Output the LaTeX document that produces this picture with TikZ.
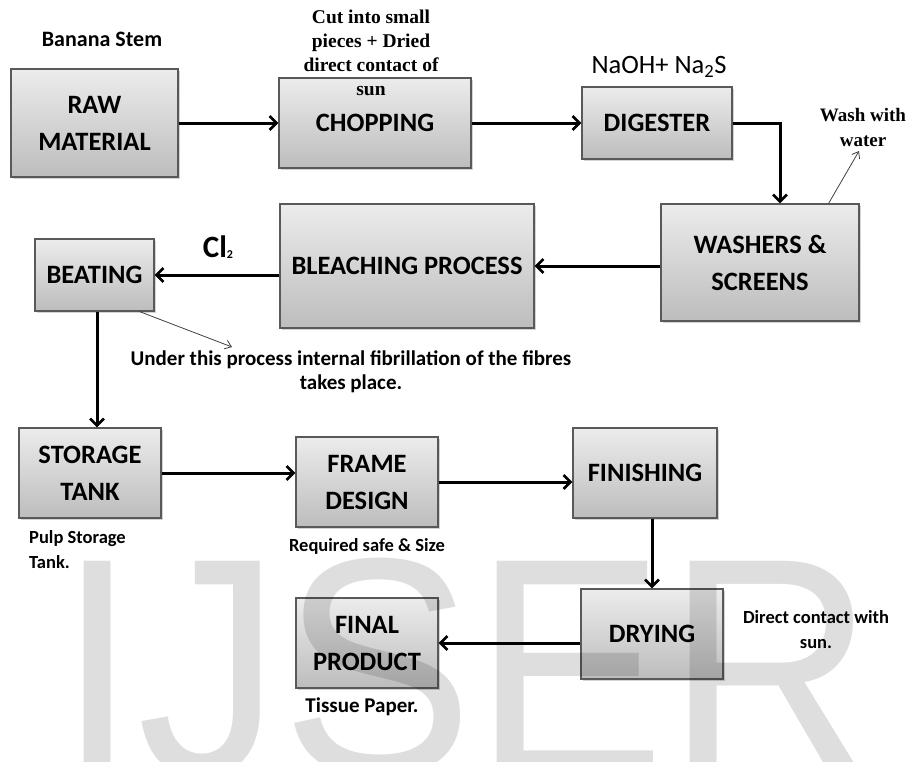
\documentclass[tikz,border=0pt]{standalone}
\usepackage{fontspec}
\setmainfont{Carlito}
\newfontfamily\cmb{Liberation Serif}
\newfontfamily\wmfont{Liberation Sans}
\usetikzlibrary{arrows.meta,shadows,calc}
\tikzset{
  box/.style={draw=black!65, line width=1.2pt, top color=gray!15, bottom color=gray!52,
    inner sep=2pt, align=center, font=\bfseries\fontsize{26.5}{37}\selectfont,
    drop shadow={shadow xshift=1.5pt,shadow yshift=-1.8pt,opacity=0.35}},
  arr/.style={line width=3pt, -{Straight Barb[length=7pt,width=14pt,line width=2.6pt]}},
  thinarr/.style={line width=0.8pt, draw=black!75, -{Straight Barb[length=6pt,width=9pt]}},
  lab/.style={font=\bfseries\fontsize{18.5}{25}\selectfont, align=center, inner sep=0pt},
  serlab/.style={font=\cmb\bfseries\fontsize{19.5}{24}\selectfont, align=center, inner sep=0pt},
}
\begin{document}
\begin{tikzpicture}[x=1pt,y=-1pt]
\useasboundingbox (0,0) rectangle (907,761);
% boxes
\node[box, minimum width=167pt, minimum height=108pt] (raw) at (94.5,123) {RAW\\MATERIAL};
\node[box, minimum width=192pt, minimum height=90pt] (chop) at (375,123) {CHOPPING};
\node[box, minimum width=150pt, minimum height=72pt] (dig) at (657,123) {DIGESTER};
\node[box, minimum width=198pt, minimum height=117pt] (wash) at (760,262.5) {WASHERS \&\\SCREENS};
\node[box, minimum width=254pt, minimum height=124pt] (bleach) at (407,266) {BLEACHING PROCESS};
\node[box, minimum width=119pt, minimum height=72pt] (beat) at (94.5,275) {BEATING};
\node[box, minimum width=142pt, minimum height=90pt] (store) at (90,473) {STORAGE\\TANK};
\node[box, minimum width=142pt, minimum height=90pt] (frame) at (367,482) {FRAME\\DESIGN};
\node[box, minimum width=144pt, minimum height=90pt] (fin) at (645,473) {FINISHING};
\node[box, minimum width=142pt, minimum height=90pt] (dry) at (652,634) {DRYING};
\node[box, minimum width=142pt, minimum height=90pt] (final) at (367,643) {FINAL\\PRODUCT};
% labels
\node[lab, font=\bfseries\fontsize{22}{26}\selectfont] (stem) at (102,39) {Banana Stem};
\node[serlab] (cut) at (371,53) {Cut into small\\pieces + Dried\\direct contact of\\sun};
\node[font=\fontsize{26.5}{30}\selectfont, inner sep=0pt] (naoh) at (659,67) {NaOH+ Na\textsubscript{2}S};
\node[serlab, font=\cmb\bfseries\fontsize{19}{25}\selectfont] (wwat) at (863,127) {Wash with\\water};
\node[font=\bfseries\fontsize{31}{31}\selectfont, inner sep=0pt] (cl) at (218,247) {Cl{\fontsize{12}{12}\selectfont\raisebox{-1pt}{2}}};
\node[lab, font=\bfseries\fontsize{21}{24}\selectfont] (note) at (351,372) {Under this process internal fibrillation of the fibres\\takes place.};
\node[lab, align=left, anchor=west] (pulp) at (29,550) {Pulp Storage\\Tank.};
\node[lab] (req) at (367,546) {Required safe \& Size};
\node[lab] (dcs) at (816,630) {Direct contact with\\sun.};
\node[lab, font=\bfseries\fontsize{21}{24}\selectfont] (tis) at (362,707) {Tissue Paper.};
% connectors
\draw[arr] (raw) -- (chop);
\draw[arr] (chop) -- (dig);
\draw[arr] (dig.east) -| ([xshift=20pt]wash.north);
\draw[arr] (wash.west |- bleach.east) -- (bleach.east);
\draw[arr] (bleach.west |- beat.east) -- (beat.east);
\draw[arr] ([xshift=2.5pt]beat.south) -- ([xshift=2.5pt]beat.south |- store.north);
\draw[arr] (store.east) -- (store.east -| frame.west);
\draw[arr] (frame.east) -- (frame.east -| fin.west);
\draw[arr] (fin.south -| dry.north) -- (dry.north);
\draw[arr] (dry.west |- final.east) -- (final.east);
% annotation pointers
\coordinate (noteend) at (232,347);
\coordinate (washend) at (859,151);
\draw[thinarr] ([xshift=-15pt]beat.south east) -- (noteend);
\draw[thinarr] ([xshift=-31pt]wash.north east) -- (washend);
% watermark
\begin{scope}
\clip (0,0) rectangle (907,761);
\node[font=\wmfont\fontsize{310}{310}\selectfont, text=black, opacity=0.13, xscale=0.93,
  anchor=base west, inner sep=0pt] (wm) at (57,774) {IJSER};
\end{scope}
\end{tikzpicture}
\end{document}
